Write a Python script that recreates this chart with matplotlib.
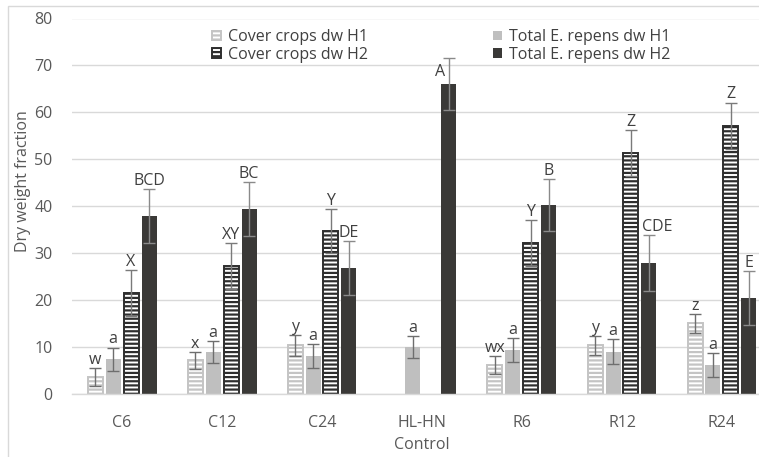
import numpy as np
import matplotlib
matplotlib.use("Agg")
import matplotlib.pyplot as plt
from matplotlib.patches import Rectangle

# ---- data -------------------------------------------------------------
categories = ["C6", "C12", "C24", "HL-HN\nControl", "R6", "R12", "R24"]

cover_h1 = [3.7, 7.2, 10.4, np.nan, 6.2, 10.4, 15.1]
cover_h1_err = [1.9, 1.8, 2.2, np.nan, 1.9, 2.0, 2.0]
cover_h1_lbl = ["w", "x", "y", "", "wx", "y", "z"]

total_h1 = [7.4, 8.9, 8.1, 10.0, 9.4, 9.0, 6.2]
total_h1_err = [2.5, 2.4, 2.5, 2.3, 2.5, 2.7, 2.6]
total_h1_lbl = ["a", "a", "a", "a", "a", "a", "a"]

cover_h2 = [21.5, 27.2, 34.7, np.nan, 32.1, 51.3, 57.2]
cover_h2_err = [4.9, 4.9, 4.7, np.nan, 4.9, 4.9, 4.9]
cover_h2_lbl = ["X", "XY", "Y", "", "Y", "Z", "Z"]

total_h2 = [37.9, 39.4, 26.8, 66.0, 40.2, 27.9, 20.4]
total_h2_err = [5.8, 5.7, 5.8, 5.5, 5.5, 5.9, 5.8]
total_h2_lbl = ["BCD", "BC", "DE", "A", "B", "CDE", "E"]

series_names = ["Cover crops dw H1", "Total E. repens dw H1",
                "Cover crops dw H2", "Total E. repens dw H2"]

# ---- style ------------------------------------------------------------
W, H = 759, 457
FS = 11.5
plt.rcParams["font.family"] = ["Open Sans", "DejaVu Sans"]
plt.rcParams["hatch.linewidth"] = 1.6
TXT = "#595959"
GRID = "#d9d9d9"

fig = plt.figure(figsize=(W / 100, H / 100), dpi=100)
ax = fig.add_axes([72 / W, 1 - 394 / H, 1 - 72 / W, (394 - 18.5) / H])

x = np.arange(len(categories))
bw = 0.15
offsets = [-0.27, -0.09, 0.09, 0.27]

styles = [
    dict(facecolor="white", edgecolor="#c4c4c4", hatch="----", linewidth=1.4),
    dict(facecolor="#bfbfbf", edgecolor="#bfbfbf", linewidth=0),
    dict(facecolor="white", edgecolor="#2e2e2e", hatch="----", linewidth=1.4),
    dict(facecolor="#3a3937", edgecolor="#3a3937", linewidth=0),
]
err_colors = ["#6e6e6e", "#6e6e6e", "#7a7a7a", "#8a8a8a"]

values = [cover_h1, total_h1, cover_h2, total_h2]
errors = [cover_h1_err, total_h1_err, cover_h2_err, total_h2_err]
letters = [cover_h1_lbl, total_h1_lbl, cover_h2_lbl, total_h2_lbl]

# per-label nudges (dx in data units, dy in points)
label_shift = {(3, 3): (-0.09, -16), (5, 3): (0.08, 0)}

handles = []
for s in range(4):
    vals = np.array(values[s], dtype=float)
    errs = np.array(errors[s], dtype=float)
    pos = x + offsets[s]
    b = ax.bar(pos, vals, bw, label=series_names[s], zorder=2, **styles[s])
    handles.append(b)
    ax.errorbar(pos, vals, yerr=errs, fmt="none", ecolor=err_colors[s],
                elinewidth=1.0, capsize=4.5, capthick=1.0, zorder=3)
    for i, (p, v, e, t) in enumerate(zip(pos, vals, errs, letters[s])):
        if not t or np.isnan(v):
            continue
        dx, dy = label_shift.get((i, s), (0.0, 0.0))
        ax.annotate(t, (p + dx, v + e), xytext=(0, 3 + dy),
                    textcoords="offset points", ha="center", va="baseline",
                    fontsize=FS, color="#404040", zorder=4)

ax.set_xlim(-0.5, 6.37)
ax.set_ylim(0, 80)
ax.set_yticks(np.arange(0, 81, 10))
ax.set_xticks(x)
ax.set_xticklabels(categories, fontsize=FS, color=TXT, linespacing=1.55)
ax.tick_params(axis="y", length=0, pad=14, labelsize=FS, labelcolor=TXT)
ax.tick_params(axis="x", length=0, pad=15)
ax.yaxis.grid(True, color=GRID, linewidth=1.0, zorder=0)
ax.set_axisbelow(True)
for sp in ["top", "right", "left"]:
    ax.spines[sp].set_visible(False)
ax.spines["bottom"].set_color(GRID)
ax.spines["bottom"].set_linewidth(1.0)

fig.text(23 / W, 1 - 181 / H, "Dry weight fraction", rotation=90,
         ha="center", va="center", fontsize=FS, color=TXT)

# legend in two separate columns
common = dict(frameon=False, fontsize=FS, labelcolor="#404040", borderpad=0,
              handlelength=0.55, handleheight=0.55, handletextpad=0.45,
              labelspacing=0.1, loc="upper left")
leg1 = fig.legend([handles[0], handles[2]], [series_names[0], series_names[2]],
                  bbox_to_anchor=(204 / W, 1 - 21 / H), **common)
leg2 = fig.legend([handles[1], handles[3]], [series_names[1], series_names[3]],
                  bbox_to_anchor=(485 / W, 1 - 21 / H), **common)

# chart border
fig.patches.append(Rectangle((8 / W, -0.1), 1.2, 1 - 6 / H + 0.1,
                             transform=fig.transFigure, fill=False,
                             edgecolor=GRID, linewidth=1.0))

fig.savefig("out.png", dpi=100)
